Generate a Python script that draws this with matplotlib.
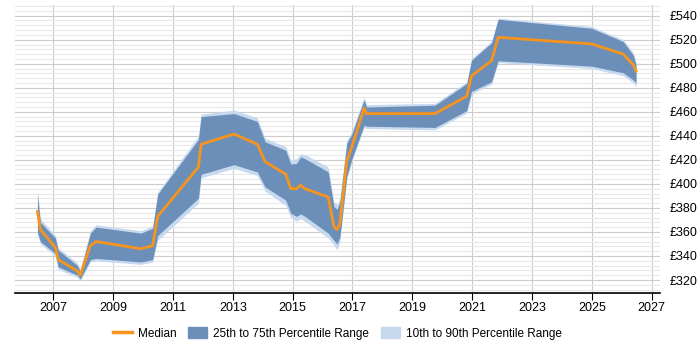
import matplotlib
matplotlib.use('Agg')
import matplotlib.pyplot as plt
from matplotlib.ticker import MultipleLocator, FuncFormatter
from matplotlib.patches import Patch
from matplotlib.lines import Line2D

# years (decimal) at which the series change
years = [2006.47, 2006.57, 2007.07, 2007.16, 2007.81, 2007.90, 2008.24, 2008.43,
         2009.93, 2010.32, 2010.49, 2011.85, 2011.94, 2013.04, 2013.82, 2014.08,
         2014.77, 2014.94, 2015.13, 2015.27, 2015.41, 2016.19, 2016.38, 2016.49,
         2016.58, 2016.81, 2016.97, 2017.39, 2017.47, 2019.76, 2020.82, 2020.98,
         2021.65, 2021.87, 2025.00, 2026.05, 2026.39, 2026.48]

median = [377, 362, 347, 337, 327.5, 324, 348.5, 352,
          346, 348.5, 373, 414, 433, 441.5, 433, 418.5,
          408, 396, 396, 399, 396, 389, 364.5, 362,
          367, 419, 430, 463, 458.5, 458.5, 473, 490,
          502.5, 522, 516.5, 508, 499, 494]

p25 = [360, 352, 342, 331, 324, 321, 337, 338,
       335, 337, 357, 388, 408, 416, 410, 397.5,
       386.5, 375.5, 373, 375, 373, 359, 353, 350,
       356, 406, 420, 449, 448, 447, 461, 477,
       485, 502.5, 498, 492.5, 486.5, 484]

p75 = [391, 368, 355, 345, 332, 327, 359, 364,
       359, 363, 391.5, 437, 456, 458.5, 452, 435,
       428, 416.5, 417, 422.5, 421, 410, 381, 379,
       385, 434, 441, 470, 464, 465.5, 483.5, 503,
       517.5, 537, 529.5, 518.5, 507, 499]

p10 = [358, 350, 340, 329, 322, 319, 335, 336,
       333, 335, 353, 384, 405, 413, 407, 394,
       382, 372, 369, 371, 369, 355, 349, 345,
       352, 404, 418, 447, 446, 445, 459, 475,
       483, 501, 496, 490, 484, 481]

p90 = [395, 371, 357, 347, 334, 329, 361, 366,
       361, 365, 393, 440, 458, 461.5, 455, 438,
       431, 420, 421, 425, 424.5, 414, 385, 383,
       388, 436, 443, 472, 466, 467, 485, 504,
       519, 538, 531, 520, 509, 501]

x_ticks = list(range(2007, 2028, 2))

plt.rcParams['font.family'] = ['Liberation Sans', 'DejaVu Sans']

fig = plt.figure(figsize=(7, 3.5), dpi=100)
ax = fig.add_axes([15/700, 1 - 292.5/350, 645/700, 287.5/350])

light = '#c6d9ee'
dark = '#6b8fb9'
orange = '#f7941d'

ax.fill_between(years, p10, p90, color=light, lw=0, zorder=2)
ax.fill_between(years, p25, p75, color=dark, lw=0, zorder=3)
ax.plot(years, median, color=orange, lw=2, zorder=4)

ax.set_xlim(2005.72, 2027.28)
ax.set_ylim(309.6, 548.9)
ax.set_xticks(x_ticks)
ax.yaxis.set_major_locator(MultipleLocator(20))
ax.yaxis.set_minor_locator(MultipleLocator(4))
ax.yaxis.set_major_formatter(FuncFormatter(lambda v, p: '£%d' % v))
ax.yaxis.tick_right()

ax.grid(which='major', axis='both', color='#cccccc', lw=0.8, zorder=0)
ax.grid(which='minor', axis='y', color='#e8e8e8', lw=0.8, zorder=0)
ax.set_axisbelow(True)

for s in ['top', 'left', 'right']:
    ax.spines[s].set_visible(False)
ax.spines['bottom'].set_color('black')
ax.spines['bottom'].set_linewidth(1.2)

ax.tick_params(axis='x', length=5, color='black', labelsize=9, pad=2)
ax.tick_params(axis='y', which='both', length=0, labelsize=9, pad=7)

handles = [Line2D([0], [0], color=orange, lw=2.5),
           Patch(color=dark), Patch(color=light)]
labels = ['Median', '25th to 75th Percentile Range', '10th to 90th Percentile Range']
fig.legend(handles, labels, loc='center', bbox_to_anchor=(0.482, 0.048), ncol=3,
           frameon=False, fontsize=8.5, handlelength=1.6, handleheight=1.1,
           columnspacing=1.0, handletextpad=0.5)

fig.savefig('out.png', dpi=100)
